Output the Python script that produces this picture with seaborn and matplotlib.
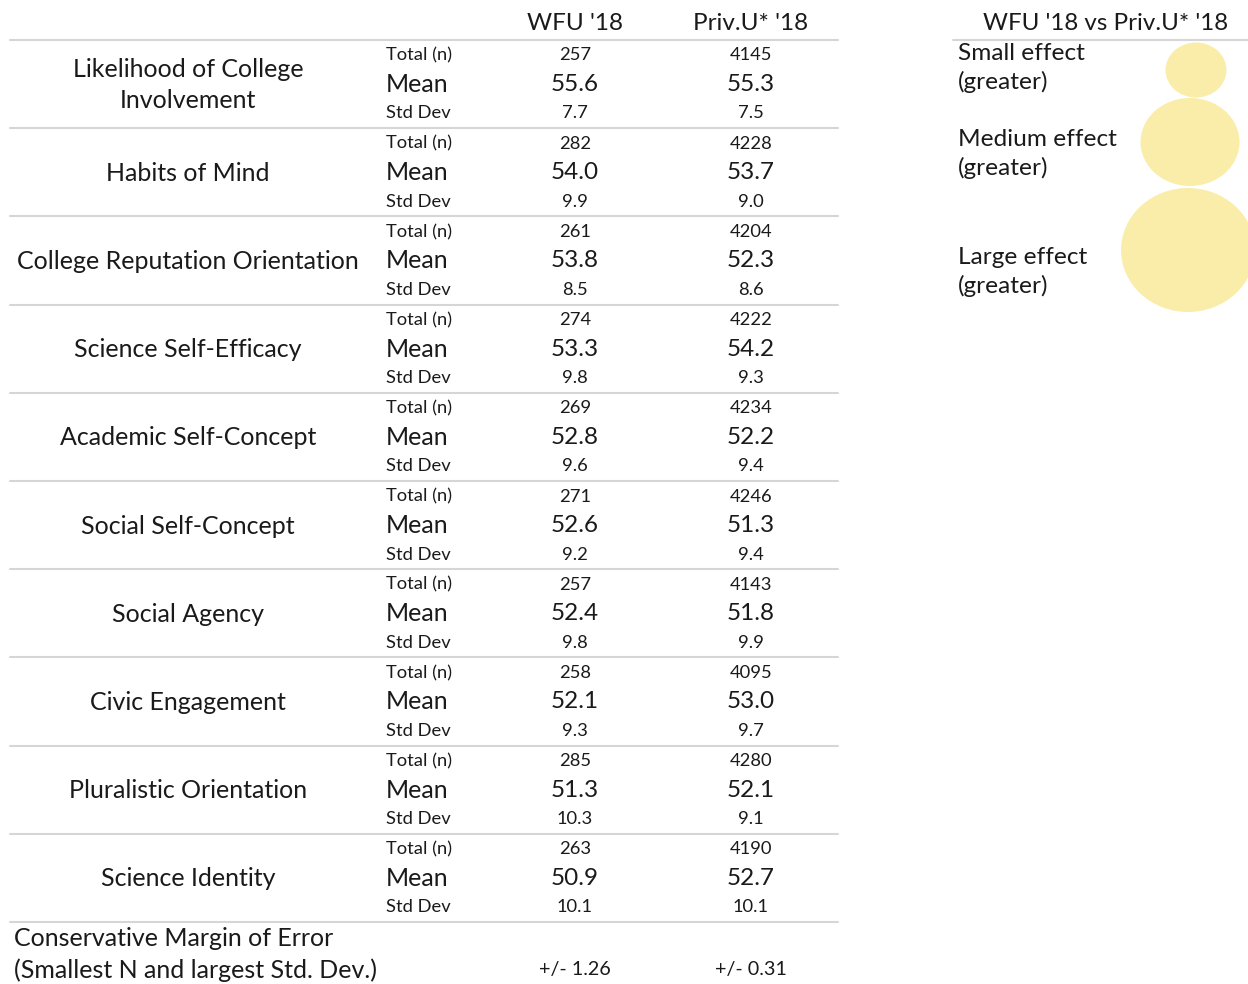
import matplotlib
matplotlib.use("Agg")
import matplotlib.pyplot as plt
from matplotlib.patches import Ellipse
import seaborn as sns

# ---------------- data ----------------
categories = [
    "Likelihood of College\nInvolvement",
    "Habits of Mind",
    "College Reputation Orientation",
    "Science Self-Efficacy",
    "Academic Self-Concept",
    "Social Self-Concept",
    "Social Agency",
    "Civic Engagement",
    "Pluralistic Orientation",
    "Science Identity",
]
columns = ["WFU '18", "Priv.U* '18"]
stat_labels = ["Total (n)", "Mean", "Std Dev"]
wfu_n = [257, 282, 261, 274, 269, 271, 257, 258, 285, 263]
wfu_mean = [55.6, 54.0, 53.8, 53.3, 52.8, 52.6, 52.4, 52.1, 51.3, 50.9]
wfu_sd = [7.7, 9.9, 8.5, 9.8, 9.6, 9.2, 9.8, 9.3, 10.3, 10.1]
priv_n = [4145, 4228, 4204, 4222, 4234, 4246, 4143, 4095, 4280, 4190]
priv_mean = [55.3, 53.7, 52.3, 54.2, 52.2, 51.3, 51.8, 53.0, 52.1, 52.7]
priv_sd = [7.5, 9.0, 8.6, 9.3, 9.4, 9.4, 9.9, 9.7, 9.1, 10.1]
moe_label = ["Conservative Margin of Error", "(Smallest N and largest Std. Dev.)"]
moe_values = ["+/- 1.26", "+/- 0.31"]
legend_title = "WFU '18 vs Priv.U* '18"
legend_labels = ["Small effect\n(greater)", "Medium effect\n(greater)", "Large effect\n(greater)"]

# ---------------- style ----------------
sns.set_theme(style="white")
plt.rcParams["font.family"] = ["Lato", "DejaVu Sans"]

W, H = 1248, 984
fig = plt.figure(figsize=(W / 100, H / 100), dpi=100)
ax = fig.add_axes([0, 0, 1, 1])
ax.set_xlim(0, W)
ax.set_ylim(H, 0)
ax.axis("off")

txt = "#1a1a1a"
grid = "#d6d6d6"
big = 18
num_big = 17.5
small = 13.2

x_label = 188
x_stat = 386
x_cols = [575, 751]
top = 40
gh = 88.2

# header
for x, c in zip(x_cols, columns):
    ax.text(x, 24, c, ha="center", va="center", fontsize=17.5, color=txt)
ax.plot([10, 838], [top, top], color=grid, lw=1.5)

series = [(wfu_n, wfu_mean, wfu_sd), (priv_n, priv_mean, priv_sd)]
for i, cat in enumerate(categories):
    y0 = top + i * gh
    ax.text(x_label, y0 + 45, cat, ha="center", va="center", fontsize=big,
            color=txt, linespacing=1.4)
    offs = [15.5, 44.5, 73.5]
    sizes = [small, big, small]
    for lab, off, fs in zip(stat_labels, offs, sizes):
        ax.text(x_stat, y0 + off, lab, ha="left", va="center", fontsize=fs, color=txt)
    for x, (n, m, s) in zip(x_cols, series):
        ax.text(x, y0 + offs[0], f"{n[i]}", ha="center", va="center", fontsize=small, color=txt)
        ax.text(x, y0 + offs[1], f"{m[i]:.1f}", ha="center", va="center", fontsize=num_big, color=txt)
        ax.text(x, y0 + offs[2], f"{s[i]:.1f}", ha="center", va="center", fontsize=small, color=txt)
    ax.plot([10, 838], [y0 + gh, y0 + gh], color=grid, lw=1.5)

# margin of error
ax.text(14, 939, moe_label[0], ha="left", va="center", fontsize=big, color=txt)
ax.text(14, 970, moe_label[1], ha="left", va="center", fontsize=big, color=txt)
for x, v in zip(x_cols, moe_values):
    ax.text(x, 970, v, ha="center", va="center", fontsize=14.2, color=txt)

# legend
ax.text(1106, 24, legend_title, ha="center", va="center", fontsize=17.4, color=txt)
ax.plot([953, W], [top, top], color=grid, lw=1.5)
circ_centers = [(1196, 70), (1190, 142), (1188, 250)]
circ_sizes = [(61, 55), (99, 88), (134, 124)]
label_y = [68, 154, 272]
for (cx, cy), (w, h), ly, lab in zip(circ_centers, circ_sizes, label_y, legend_labels):
    ax.add_patch(Ellipse((cx, cy), w, h, facecolor="#FAEDA6", edgecolor="none", alpha=0.95, zorder=1))
    ax.text(958, ly, lab, ha="left", va="center", fontsize=17.6, color=txt,
            linespacing=1.4, zorder=2)

fig.savefig("out.png", dpi=100)
